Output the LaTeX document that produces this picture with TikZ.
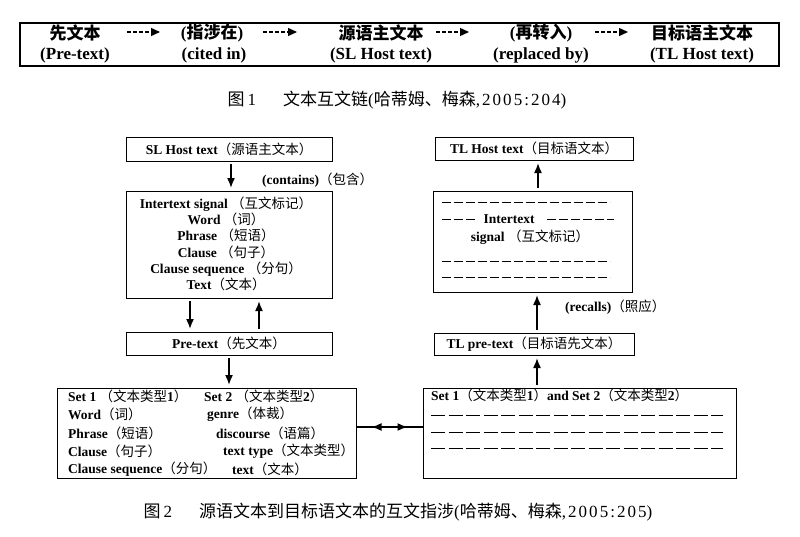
\documentclass[tikz,border=0pt]{standalone}
\usepackage{fontspec}
\setmainfont{Liberation Serif}
\newfontfamily\cjk{Noto Sans CJK SC}
\usetikzlibrary{arrows.meta,decorations.markings}
\newcommand\zhr[1]{{\cjk\mdseries #1}}
\newcommand\zhb[1]{{\cjk\bfseries #1}}
\newcommand\capnum[1]{{\addfontfeature{LetterSpace=12}#1}}
\begin{document}
\begin{tikzpicture}[x=1pt,y=-1pt,
  box/.style={draw, line width=1pt, inner sep=0pt},
  lbl/.style={font=\bfseries\fontsize{13.5}{16.3}\selectfont, inner sep=0pt},
  toptxt/.style={font=\bfseries\fontsize{17}{20}\selectfont, inner sep=0pt},
  captxt/.style={font=\fontsize{17}{20}\selectfont, inner sep=0pt},
  varrow/.style={line width=1.6pt, -{Latex[length=10pt,width=8pt]}, shorten <=2.5pt, shorten >=2.5pt},
  darrow/.style={line width=1.4pt, dash pattern=on 3.5pt off 2.5pt, -{Triangle[length=9pt,width=8pt]}},
  dlineA/.style={line width=0.8pt, dash pattern=on 9pt off 3pt},
  dlineB/.style={line width=0.8pt, dash pattern=on 14pt off 3.5pt}]
\useasboundingbox (0,0) rectangle (800,536);
\fill[white] (0,0) rectangle (800,536);

% ---------- Figure 1 ----------
\node[draw, line width=2pt, minimum width=759pt, minimum height=43pt, inner sep=0pt] (chain) at (399.5,44.5) {};
\node[toptxt] (c1a) at (75,33) {\zhb{先文本}};
\node[toptxt] (c1b) at (75,55) {(Pre-text)};
\node[toptxt] (c2a) at (212,33) {(\zhb{指涉在})};
\node[toptxt] (c2b) at (214,55) {(cited in)};
\node[toptxt] (c3a) at (381,33) {\zhb{源语主文本}};
\node[toptxt] (c3b) at (381,55) {(SL Host text)};
\node[toptxt] (c4a) at (541,33) {(\zhb{再转入})};
\node[toptxt] (c4b) at (541,55) {(replaced by)};
\node[toptxt] (c5a) at (702,33) {\zhb{目标语主文本}};
\node[toptxt] (c5b) at (702,55) {(TL Host text)};
\coordinate (a1s) at (127,32); \coordinate (a1e) at (160,32);
\coordinate (a2s) at (263,32); \coordinate (a2e) at (297,32);
\coordinate (a3s) at (436,32); \coordinate (a3e) at (469,32);
\coordinate (a4s) at (595,32); \coordinate (a4e) at (628,32);
\draw[darrow] (a1s) -- (a1e);
\draw[darrow] (a2s) -- (a2e);
\draw[darrow] (a3s) -- (a3e);
\draw[darrow] (a4s) -- (a4e);
\node[captxt] (cap1) at (397,100) {\zhr{图}\,\capnum{1}\hspace{1.6em}\zhr{文本互文链}(\zhr{哈蒂姆、梅森}\capnum{,2005:204})};

% ---------- Figure 2, left column ----------
\node[box, lbl, minimum width=206pt, minimum height=24pt] (slh) at (229,149) {SL Host text\zhr{（源语主文本）}};
\node[box, minimum width=206pt, minimum height=107pt] (inter) at (229,244.5) {};
\node[lbl, align=center] (intertxt) at (226,244) {Intertext signal \zhr{（互文标记）}\\Word \zhr{（词）}\\Phrase \zhr{（短语）}\\Clause \zhr{（句子）}\\Clause sequence \zhr{（分句）}\\Text\zhr{（文本）}};
\node[box, lbl, minimum width=206pt, minimum height=23pt] (pre) at (229,343.5) {Pre-text\zhr{（先文本）}};
\node[lbl, anchor=west] (contains) at (262,180) {(contains)\zhr{（包含）}};

\node[box, minimum width=299pt, minimum height=90pt] (setL) at (206.5,433) {};
\node[lbl, anchor=west] (l1a) at (68,396) {Set 1 \zhr{（文本类型}1\zhr{）}};
\node[lbl, anchor=west] (l1b) at (204,396) {Set 2 \zhr{（文本类型}2\zhr{）}};
\node[lbl, anchor=west] (l2a) at (68,414.5) {Word\zhr{（词）}};
\node[lbl, anchor=west] (l2b) at (207,414.5) {genre\zhr{（体裁）}};
\node[lbl, anchor=west] (l3a) at (68,433) {Phrase\zhr{（短语）}};
\node[lbl, anchor=west] (l3b) at (216,433) {discourse\zhr{（语篇）}};
\node[lbl, anchor=west] (l4a) at (68,451) {Clause\zhr{（句子）}};
\node[lbl, anchor=west] (l4b) at (223,451) {text type\zhr{（文本类型）}};
\node[lbl, anchor=west] (l5a) at (68,469) {Clause sequence\zhr{（分句）}};
\node[lbl, anchor=west] (l5b) at (232,469) {text\zhr{（文本）}};

% ---------- Figure 2, right column ----------
\node[box, lbl, minimum width=198pt, minimum height=23pt] (tlh) at (534,148.5) {TL Host text\zhr{（目标语文本）}};
\node[box, minimum width=199pt, minimum height=101pt] (interR) at (532.5,241.5) {};
\draw[dlineA] (442,202) -- (610,202);
\draw[dlineA] (442,219) -- (475,219);
\node[lbl] (itxt) at (509,219) {Intertext};
\draw[dlineA] (547,219) -- (614,219);
\node[lbl] (stxt) at (530,237) {signal \zhr{（互文标记）}};
\draw[dlineA] (442,261) -- (610,261);
\draw[dlineA] (442,277) -- (610,277);
\node[box, lbl, minimum width=200pt, minimum height=22pt] (tlpre) at (534,344) {TL pre-text\zhr{（目标语先文本）}};
\node[lbl, anchor=west] (recalls) at (565,307) {(recalls)\zhr{（照应）}};

\node[box, minimum width=313pt, minimum height=90pt] (setR) at (579.5,433) {};
\node[lbl, anchor=west] (r1) at (431,395.5) {Set 1\zhr{（文本类型}1\zhr{）}and Set 2\zhr{（文本类型}2\zhr{）}};
\draw[dlineB] (431,415) -- (723,415);
\draw[dlineB] (431,432) -- (723,432);
\draw[dlineB] (431,448) -- (723,448);

% ---------- connectors ----------
\draw[varrow] ([xshift=2pt]slh.south) -- ([xshift=2pt]inter.north);
\draw[varrow] ([xshift=-39pt]inter.south) -- ([xshift=-39pt]pre.north);
\draw[varrow] ([xshift=30pt]pre.north) -- ([xshift=30pt]inter.south);
\draw[varrow] (pre.south) -- (pre.south |- setL.north);
\draw[varrow] ([xshift=3pt]tlpre.south |- setR.north) -- ([xshift=3pt]tlpre.south);
\draw[varrow] ([xshift=3pt]tlpre.north) -- ([xshift=3pt]tlpre.north |- interR.south);
\draw[varrow] ([xshift=5.5pt]interR.north) -- ([xshift=5.5pt]interR.north |- tlh.south);
\draw[line width=1.6pt, postaction={decorate}, decoration={markings,
    mark=at position 15pt with {\arrowreversed{Latex[length=10pt,width=8pt]}},
    mark=at position 51pt with {\arrow{Latex[length=10pt,width=8pt]}}}]
  ([yshift=6pt]setL.east) -- ([yshift=6pt]setR.west);

\node[captxt] (cap2) at (398,512) {\zhr{图}\,\capnum{2}\hspace{1.6em}\zhr{源语文本到目标语文本的互文指涉}(\zhr{哈蒂姆、梅森}\capnum{,2005:205})};
\end{tikzpicture}
\end{document}
